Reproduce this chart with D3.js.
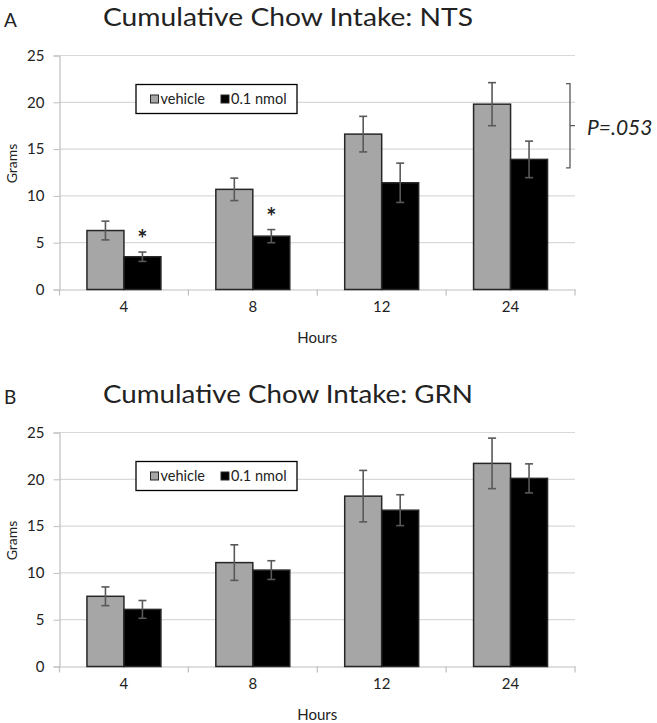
<!DOCTYPE html>
<html>
<head>
<meta charset="utf-8">
<script src="https://cdn.jsdelivr.net/npm/d3@7"></script>
<style>
  html, body { margin: 0; padding: 0; background: #fff; }
  svg { display: block; }
  text { font-family: Lato, "Open Sans", sans-serif; fill: #222; }
</style>
</head>
<body>
<svg id="chart" width="657" height="723"></svg>
<script>
// ---- data ----
const hours = ["4", "8", "12", "24"];
const seriesNames = ["vehicle", "0.1 nmol"];
const yTicks = [0, 5, 10, 15, 20, 25];

const ntsVehicle = [6.3, 10.7, 16.6, 19.8];
const ntsVehicleErr = [1.0, 1.2, 1.9, 2.3];
const ntsDrug = [3.5, 5.7, 11.4, 13.9];
const ntsDrugErr = [0.5, 0.7, 2.1, 1.95];
const ntsStars = [true, true, false, false];
const ntsBracket = [13, 22];
const ntsBracketLabel = "P=.053";

const grnVehicle = [7.5, 11.1, 18.2, 21.7];
const grnVehicleErr = [1.0, 1.9, 2.75, 2.7];
const grnDrug = [6.1, 10.3, 16.7, 20.1];
const grnDrugErr = [0.95, 1.0, 1.65, 1.55];
const grnStars = [false, false, false, false];

const panels = [
  { letter: "A", title: "Cumulative Chow Intake: NTS", top: 55.5,
    vals: [ntsVehicle, ntsDrug], errs: [ntsVehicleErr, ntsDrugErr], stars: ntsStars,
    bracket: ntsBracket, bracketLabel: ntsBracketLabel },
  { letter: "B", title: "Cumulative Chow Intake: GRN", top: 432.5,
    vals: [grnVehicle, grnDrug], errs: [grnVehicleErr, grnDrugErr], stars: grnStars,
    bracket: null }
];

const colors = ["#a6a6a6", "#000000"];
const svg = d3.select("#chart");
const plotLeft = 59.5, plotRight = 575, plotH = 234;

panels.forEach(p => {
  const g = svg.append("g");
  const y = d3.scaleLinear().domain([0, 25]).range([p.top + plotH, p.top]);
  const x = d3.scaleBand().domain(hours).range([plotLeft, plotRight])
    .paddingInner(0.426).paddingOuter(0.213);
  const xs = d3.scaleBand().domain(seriesNames).range([0, x.bandwidth()]);
  const x0 = d3.scaleBand().domain(hours).range([plotLeft, plotRight]);

  // letter and title
  g.append("text").attr("x", 4).attr("y", p.top - 29).attr("font-size", 19).text(p.letter);
  g.append("text").attr("x", 103).attr("y", p.top - 29.5).attr("font-size", 25)
    .attr("textLength", 370).attr("lengthAdjust", "spacingAndGlyphs").text(p.title);

  // gridlines
  g.append("g").selectAll("line").data(yTicks.filter(d => d > 0)).join("line")
    .attr("x1", plotLeft).attr("x2", plotRight)
    .attr("y1", d => y(d)).attr("y2", d => y(d))
    .attr("stroke", "#d9d9d9").attr("stroke-width", 1.2);

  // y axis
  const ya = g.append("g").attr("transform", `translate(${plotLeft},0)`)
    .call(d3.axisLeft(y).tickValues(yTicks).tickSize(6).tickPadding(9));
  ya.select(".domain").attr("stroke", "#bfbfbf").attr("stroke-width", 1.2);
  ya.selectAll(".tick line").attr("stroke", "#bfbfbf");
  ya.selectAll(".tick text").attr("font-family", "Lato, sans-serif").attr("font-size", 15).attr("fill", "#222");

  // x axis (ticks at category boundaries)
  const xa = g.append("g").attr("transform", `translate(0,${p.top + plotH})`)
    .call(d3.axisBottom(x).tickSize(0).tickPadding(12));
  xa.select(".domain").attr("stroke", "#bfbfbf").attr("stroke-width", 1.2);
  xa.selectAll(".tick text").attr("font-family", "Lato, sans-serif").attr("font-size", 15).attr("fill", "#222");
  const bounds = hours.map(h => x0(h)).concat([x0(hours[hours.length - 1]) + x0.bandwidth()]);
  xa.selectAll("line.bound").data(bounds).join("line").attr("class", "bound")
    .attr("x1", d => d).attr("x2", d => d).attr("y1", 0).attr("y2", 6)
    .attr("stroke", "#bfbfbf").attr("stroke-width", 1.2);

  // axis titles
  g.append("text").attr("transform", `translate(17,${p.top + plotH / 2 - 9}) rotate(-90)`)
    .attr("text-anchor", "middle").attr("font-size", 14).text("Grams");
  g.append("text").attr("x", (plotLeft + plotRight) / 2).attr("y", p.top + plotH + 53)
    .attr("text-anchor", "middle").attr("font-size", 15).text("Hours");

  // bars
  seriesNames.forEach((s, si) => {
    const data = hours.map((h, i) => ({ h, v: p.vals[si][i], e: p.errs[si][i], star: si === 1 && p.stars[i] }));
    const bg = g.append("g");
    bg.selectAll("rect").data(data).join("rect")
      .attr("x", d => x(d.h) + xs(s)).attr("width", xs.bandwidth())
      .attr("y", d => y(d.v)).attr("height", d => y(0) - y(d.v))
      .attr("fill", colors[si]).attr("stroke", "#262626").attr("stroke-width", 1.5);
    const eg = bg.selectAll("g.err").data(data).join("g").attr("class", "err")
      .attr("stroke", "#595959").attr("stroke-width", 1.6);
    const cx = d => x(d.h) + xs(s) + xs.bandwidth() / 2;
    eg.append("line").attr("x1", cx).attr("x2", cx).attr("y1", d => y(d.v + d.e)).attr("y2", d => y(d.v - d.e));
    eg.append("line").attr("x1", d => cx(d) - 4).attr("x2", d => cx(d) + 4).attr("y1", d => y(d.v + d.e)).attr("y2", d => y(d.v + d.e));
    eg.append("line").attr("x1", d => cx(d) - 4).attr("x2", d => cx(d) + 4).attr("y1", d => y(d.v - d.e)).attr("y2", d => y(d.v - d.e));
    bg.selectAll("text.star").data(data.filter(d => d.star)).join("text").attr("class", "star")
      .attr("x", cx).attr("y", d => y(d.v + d.e) - 4).attr("text-anchor", "middle")
      .attr("font-size", 24).attr("font-weight", "bold").text("*");
  });

  // legend
  const lg = g.append("g").attr("transform", `translate(${plotLeft + 76.5},${p.top + 29})`);
  lg.append("rect").attr("width", 161).attr("height", 29).attr("fill", "#fff")
    .attr("stroke", "#000").attr("stroke-width", 1.3);
  const items = [{ n: seriesNames[0], c: colors[0], x: 14.5 }, { n: seriesNames[1], c: colors[1], x: 85 }];
  items.forEach(it => {
    lg.append("rect").attr("x", it.x).attr("y", 10.5).attr("width", 8).attr("height", 8)
      .attr("fill", it.c).attr("stroke", "#262626").attr("stroke-width", 1);
    lg.append("text").attr("x", it.x + 10).attr("y", 19.5).attr("font-size", 14.5).text(it.n);
  });

  // significance bracket
  if (p.bracket) {
    const bx = plotRight - 5, yTop = y(p.bracket[1]), yBot = y(p.bracket[0]);
    const mid = (yTop + yBot) / 2;
    g.append("path")
      .attr("d", `M${bx - 4},${yTop} L${bx},${yTop} L${bx},${yBot} L${bx - 4},${yBot} M${bx},${mid} L${bx + 5},${mid}`)
      .attr("fill", "none").attr("stroke", "#595959").attr("stroke-width", 1.3);
    g.append("text").attr("x", bx + 17).attr("y", mid + 9).attr("font-size", 21)
      .attr("font-style", "italic").text(p.bracketLabel);
  }
});
</script>
</body>
</html>
